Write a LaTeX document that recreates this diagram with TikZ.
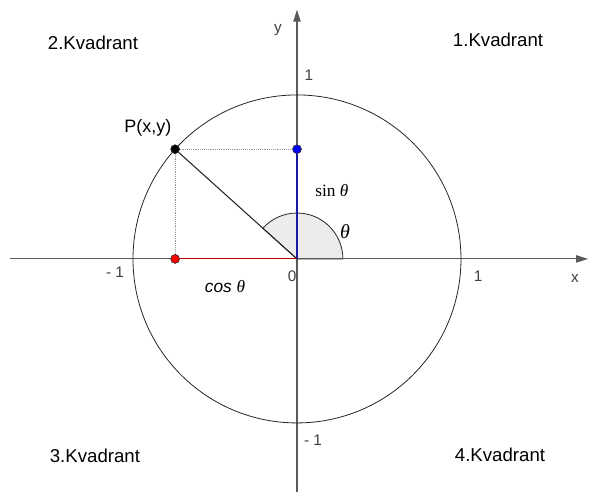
\documentclass[tikz,border=0pt]{standalone}
\usepackage{fontspec}
\setmainfont{Liberation Sans}
\newfontfamily\serifgr{Liberation Serif}
\usepackage{xcolor}
\definecolor{axisgray}{HTML}{5A5A5A}
\definecolor{cosred}{HTML}{C00000}
\definecolor{sinblue}{HTML}{1A1AA0}
\usetikzlibrary{calc,arrows.meta,positioning}

\begin{document}
\begin{tikzpicture}[x=4.33cm, y=4.33cm, >={Triangle[length=9pt,width=5.5pt]},
    quadlabel/.style={font=\fontsize{14}{16}\selectfont},
    ticklabel/.style={font=\fontsize{11.5}{13}\selectfont, text=black!75},
    dot/.style={circle, inner sep=0pt, minimum size=6.5pt, draw=black!80}]
    \useasboundingbox (-1.811,-1.421) rectangle (1.799,1.579);

    % Origin and point on the circle
    \coordinate (O) at (0,0);
    \node[dot, fill=black] (P) at (138:1) {};
    \node[dot, fill=red] (Px) at (P |- O) {};
    \node[dot, fill=blue] (Py) at (P -| O) {};

    % Angle sector theta
    \filldraw[fill=gray!15, draw=black!85, semithick] (O) -- (0.28,0) arc (0:138:0.28) -- cycle;

    % Axes
    \draw[->, axisgray, thick] (-1.75,0) -- (1.775,0) coordinate (xend);
    \draw[->, axisgray, thick] (0,-1.421) -- (0,1.52) coordinate (yend);

    % Unit circle
    \draw[black!85, semithick] (O) circle (1);

    % Projections of P
    \draw[densely dotted, gray!80] (P) -- (Py);
    \draw[densely dotted, gray!80] (P) -- (Px);

    % cos and sin
    \draw[cosred, thick] (Px) -- (O);
    \draw[sinblue, thick] (Py) -- (O);

    % Radius to P
    \draw[black!85, thick] (O) -- (P);

    % Dots on top
    \node[dot, fill=black] at (P) {};
    \node[dot, fill=red] at (Px) {};
    \node[dot, fill=blue] at (Py) {};

    % Labels
    \node[ticklabel] (xlab) at (1.695,-0.116) {x};
    \node[ticklabel] (ylab) at (-0.116,1.396) {y};
    \node[ticklabel] (one-y) at (0.073,1.122) {1};
    \node[ticklabel] (one-x) at (1.104,-0.104) {1};
    \node[ticklabel] (mone-x) at (-1.11,-0.079) {- 1};
    \node[ticklabel] (mone-y) at (0.098,-1.104) {- 1};
    \node[ticklabel] (zero) at (-0.03,-0.104) {0};
    \node[font=\fontsize{13.5}{15}\selectfont] (Plab) at (-0.909,0.799) {P(x,y)};
    \node[font=\fontsize{13}{15}\selectfont] (sinlab) at (0.213,0.415) {\serifgr sin \textit{θ}};
    \node[font=\fontsize{15}{17}\selectfont] (thlab) at (0.293,0.165) {\serifgr\textit{θ}};
    \node[font=\fontsize{13}{15}\selectfont] (coslab) at (-0.439,-0.171) {\textit{cos \serifgr θ}};

    % Quadrants
    \node[quadlabel] (Q1) at (1.226,1.335) {1.Kvadrant};
    \node[quadlabel] (Q2) at (-1.244,1.317) {2.Kvadrant};
    \node[quadlabel] (Q3) at (-1.232,-1.201) {3.Kvadrant};
    \node[quadlabel] (Q4) at (1.238,-1.195) {4.Kvadrant};
\end{tikzpicture}
\end{document}
